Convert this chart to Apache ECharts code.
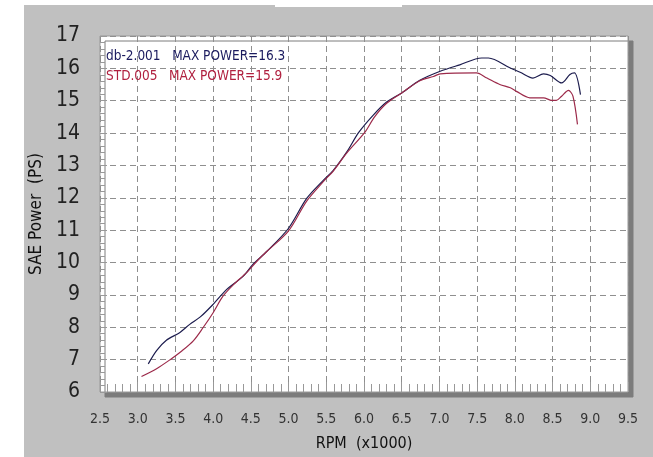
<!DOCTYPE html>
<html>
<head>
<meta charset="utf-8">
<style>
  html, body { margin: 0; padding: 0; background: #fff; }
  .wrap { position: relative; width: 653px; height: 457px; }
  .panel { position: absolute; left: 24px; top: 5px; right: 0; bottom: 0; background: #c0c0c0; }
  .strip { position: absolute; left: 275px; top: 0; width: 127px; height: 7px; background: #fff; }
  #main { position: absolute; left: 0; top: 0; width: 653px; height: 457px; }
</style>
</head>
<body>
<div class="wrap">
  <div class="panel"></div>
  <div class="strip"></div>
  <div id="main"></div>
</div>
<script src="https://cdn.jsdelivr.net/npm/echarts@6/dist/echarts.min.js"></script>
<script>
// RPM (x1000) / SAE power (PS)
var dbName = 'db-2.001';
var stdName = 'STD.005';
var maxPower = { 'db-2.001': '16.3', 'STD.005': '15.9' };

var dbCurve = [
  [3.14, 6.87], [3.25, 7.28], [3.38, 7.60], [3.56, 7.84], [3.69, 8.09], [3.83, 8.32],
  [4.00, 8.71], [4.18, 9.17], [4.40, 9.58], [4.53, 9.95], [4.71, 10.34], [5.00, 11.06],
  [5.24, 11.98], [5.46, 12.54], [5.59, 12.84], [5.77, 13.41], [5.93, 14.02], [6.12, 14.55],
  [6.30, 14.96], [6.50, 15.24], [6.74, 15.63], [7.01, 15.91], [7.27, 16.11], [7.56, 16.32],
  [7.65, 16.32], [7.94, 16.01], [8.07, 15.88], [8.24, 15.70], [8.38, 15.83], [8.47, 15.78],
  [8.62, 15.55], [8.73, 15.81], [8.79, 15.86], [8.87, 15.19]
];
var stdCurve = [
  [3.05, 6.48], [3.25, 6.72], [3.43, 7.00], [3.58, 7.26], [3.74, 7.59], [3.87, 8.00],
  [4.00, 8.45], [4.13, 8.96], [4.27, 9.32], [4.44, 9.68], [4.58, 10.04], [4.71, 10.34],
  [5.00, 10.98], [5.24, 11.90], [5.46, 12.50], [5.59, 12.82], [5.77, 13.38], [6.01, 14.02],
  [6.14, 14.50], [6.30, 14.92], [6.50, 15.24], [6.74, 15.62], [6.92, 15.75], [7.01, 15.83],
  [7.49, 15.86], [7.63, 15.70], [7.80, 15.50], [7.94, 15.40], [8.02, 15.29], [8.20, 15.09],
  [8.38, 15.09], [8.49, 15.01], [8.55, 15.01], [8.62, 15.14], [8.71, 15.32], [8.77, 15.14],
  [8.83, 14.27]
];

var rpmMin = 2.5, rpmMax = 9.5, rpmStep = 0.5;
var psMin = 6, psMax = 17, psStep = 1;

var narrow = '"Liberation Sans Narrow", "DejaVu Sans Condensed", sans-serif';
var gridLine = { color: '#8f8f8f', type: [6, 4], width: 1 };

var myChart = echarts.init(document.getElementById('main'));
myChart.setOption({
  backgroundColor: 'transparent',
  animation: false,
  grid: {
    show: true,
    left: 100, right: 25, top: 36, bottom: 62,
    backgroundColor: '#fff',
    borderColor: '#999',
    borderWidth: 1,
    shadowColor: '#7c7c7c',
    shadowBlur: 0,
    shadowOffsetX: 5,
    shadowOffsetY: 5
  },
  legend: {
    orient: 'vertical',
    left: 96, top: 44,
    icon: 'none',
    itemWidth: 0, itemHeight: 14, itemGap: 6,
    selectedMode: false,
    formatter: function (name) {
      return name + '   MAX POWER=' + maxPower[name];
    },
    data: [
      { name: dbName, textStyle: { color: '#1a1a5e' } },
      { name: stdName, textStyle: { color: '#b0203f' } }
    ],
    textStyle: { fontFamily: narrow, fontSize: 13.5 }
  },
  xAxis: {
    type: 'value',
    min: rpmMin, max: rpmMax, interval: rpmStep,
    name: 'RPM  (x1000)',
    nameLocation: 'middle',
    nameGap: 44,
    nameTextStyle: { color: '#111', fontFamily: narrow, fontSize: 16 },
    axisLine: { show: false },
    axisTick: { show: true, inside: true, length: 10, lineStyle: { color: '#999' } },
    minorTick: { show: true, splitNumber: 5, length: 8, lineStyle: { color: '#999' } },
    axisLabel: {
      margin: 20, color: '#333', fontFamily: narrow, fontSize: 14,
      formatter: function (v) { return v.toFixed(1); }
    },
    splitLine: { show: true, lineStyle: gridLine }
  },
  yAxis: {
    type: 'value',
    min: psMin, max: psMax, interval: psStep,
    name: 'SAE Power  (PS)',
    nameLocation: 'middle',
    nameGap: 55,
    nameTextStyle: { color: '#111', fontFamily: narrow, fontSize: 17 },
    axisLine: { show: false },
    axisTick: { show: true, inside: true, length: 7, lineStyle: { color: '#999' } },
    minorTick: { show: true, splitNumber: 5, length: 5, lineStyle: { color: '#999' } },
    axisLabel: { margin: 20, color: '#222', fontFamily: narrow, fontSize: 21 },
    splitLine: { show: true, lineStyle: gridLine }
  },
  series: [{
    name: dbName,
    type: 'line',
    data: dbCurve,
    showSymbol: false,
    smooth: 0.3,
    lineStyle: { color: '#1c1c4e', width: 1.2 },
    itemStyle: { color: '#1c1c4e' }
  }, {
    name: stdName,
    type: 'line',
    data: stdCurve,
    showSymbol: false,
    smooth: 0.3,
    lineStyle: { color: '#9c2a4a', width: 1.2 },
    itemStyle: { color: '#9c2a4a' }
  }]
});
</script>
</body>
</html>
